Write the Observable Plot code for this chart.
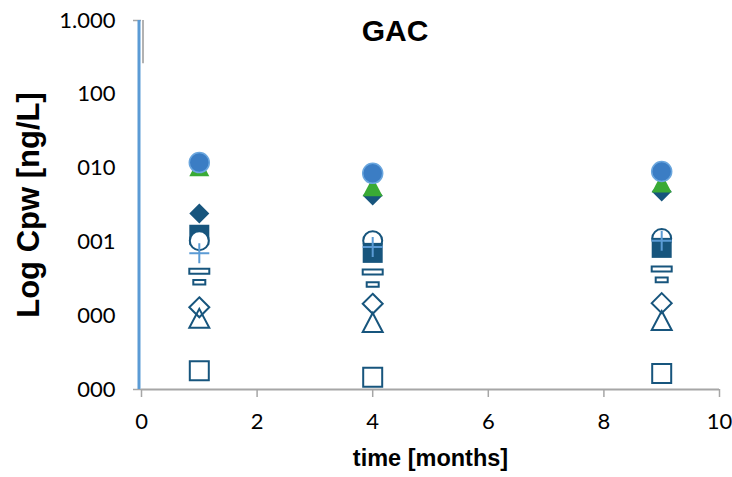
<!DOCTYPE html>
<html>
<head>
<meta charset="utf-8">
<script src="https://cdn.jsdelivr.net/npm/d3@7"></script>
<script src="https://cdn.jsdelivr.net/npm/@observablehq/plot@0.6"></script>
<style>
  html, body { margin: 0; padding: 0; background: #fff; }
  #wrap { position: relative; width: 732px; height: 477px; }
  #title { position: absolute; left: 395px; top: 16px; transform: translateX(-50%);
           font-family: "Liberation Sans", Arial, sans-serif; font-weight: bold; font-size: 30px;
           line-height: 30px; color: #000; white-space: nowrap; }
</style>
</head>
<body>
<div id="wrap"><div id="title">GAC</div></div>
<script>
// ---- data ----
const months = [1, 4, 9];
const blueCircle   = [11.9, 8.5, 9.0];
const greenTriangle= [10.4, 5.6, 6.3];
const navyDiamond  = [2.43, 4.25, 4.8];
const navySquare   = [1.25, 0.71, 0.83];
const openCircle   = [1.04, 1.04, 1.11];
const lightPlus    = [0.70, 0.85, 1.04];
const wideDash     = [0.40, 0.39, 0.43];
const shortDash    = [0.284, 0.265, 0.306];
const openDiamond  = [0.130, 0.145, 0.148];
const openTriangle = [0.092, 0.081, 0.086];
const openSquare   = [0.018, 0.0146, 0.0165];

const xTicks = [0, 2, 4, 6, 8, 10];
const yTicks = [1000, 100, 10, 1, 0.1, 0.01];
const yTickLabels = ["1.000", "100", "010", "001", "000", "000"];

// ---- helpers ----
const rows = vals => months.map((m, i) => ({month: m, value: vals[i]}));
const rad = size => Math.sqrt(size / Math.PI);
const symRect = aspect => ({draw(ctx, size) { const r = rad(size), h = r * aspect; ctx.rect(-r, -h, 2 * r, 2 * h); }});
const symSquare = {draw(ctx, size) { const r = rad(size); ctx.rect(-r, -r, 2 * r, 2 * r); }};
const symDiamond = {draw(ctx, size) { const r = rad(size); ctx.moveTo(0, -r); ctx.lineTo(r, 0); ctx.lineTo(0, r); ctx.lineTo(-r, 0); ctx.closePath(); }};
const symTriangle = {draw(ctx, size) { const r = rad(size), h = r * 0.95; ctx.moveTo(0, -h); ctx.lineTo(r, h); ctx.lineTo(-r, h); ctx.closePath(); }};
const symPlus = {draw(ctx, size) { const r = rad(size); ctx.moveTo(-r, 0); ctx.lineTo(r, 0); ctx.moveTo(0, -r); ctx.lineTo(0, r); }};

const NAVY = "#17557d", BLUE = "#3b7dc4", BLUE_EDGE = "#6aa6de", GREEN = "#3aaa35", LIGHT = "#5b9bd5";
const base = {x: "month", y: "value"};

const sqRows = rows(navySquare), ocRows = rows(openCircle);

const chart = Plot.plot({
  width: 732, height: 477,
  marginLeft: 141, marginRight: 13, marginTop: 20, marginBottom: 88,
  style: {fontFamily: "Lato, 'Open Sans', sans-serif", background: "transparent", color: "#000"},
  x: {domain: [0, 10]},
  y: {type: "log", domain: [0.01, 1000]},
  marks: [
    Plot.ruleY([0.01], {stroke: "#a6a6a6", strokeWidth: 2}),
    Plot.axisX({ticks: xTicks, tickSize: 8, tickPadding: 16, stroke: "#a6a6a6", strokeWidth: 1.5, fill: "#000", fontSize: 22, label: null, tickFormat: d => String(d)}),
    Plot.axisY({ticks: [1000, 0.01], tickSize: 8, stroke: "#a6a6a6", strokeWidth: 1.5, tickFormat: () => "", label: null}),
    Plot.axisY({ticks: yTicks, tickSize: 0, tickPadding: 26, fontSize: 22, fill: "#000", label: null, tickFormat: d => yTickLabels[yTicks.indexOf(d)]}),
    Plot.ruleX([0], {y1: 260, y2: 1000, stroke: "#999", strokeWidth: 1.5, dx: 1.5}),
    Plot.ruleX([0], {stroke: LIGHT, strokeWidth: 3, dx: -2.5}),
    Plot.text(["Log Cpw [ng/L]"], {frameAnchor: "left", textAnchor: "middle", rotate: -90, dx: -112, fontSize: 31, fontWeight: "bold", fontFamily: "'Liberation Sans', Arial, sans-serif", fill: "#000"}),
    Plot.text(["time [months]"], {frameAnchor: "bottom", dy: 76, fontSize: 23.5, fontWeight: "bold", fontFamily: "'Liberation Sans', Arial, sans-serif", fill: "#000"}),

    // low markers
    Plot.dot(rows(openSquare), {...base, symbol: symSquare, r: 9.5, stroke: NAVY, strokeWidth: 2, fill: "white"}),
    Plot.dot(rows(openDiamond), {...base, symbol: symDiamond, r: 10, stroke: NAVY, strokeWidth: 2, fill: "none"}),
    Plot.dot(rows(openTriangle), {...base, symbol: symTriangle, r: 10, stroke: NAVY, strokeWidth: 2, fill: "none"}),
    Plot.dot(rows(shortDash), {...base, symbol: symRect(0.38), r: 6, stroke: NAVY, strokeWidth: 2, fill: "white"}),
    Plot.dot(rows(wideDash), {...base, symbol: symRect(0.25), r: 10, stroke: NAVY, strokeWidth: 2, fill: "white"}),

    // square/circle: circle in front at month 1, square in front later
    Plot.dot(sqRows.filter(d => d.month === 1), {...base, symbol: symSquare, r: 10, fill: NAVY}),
    Plot.dot(ocRows, {...base, r: 9.5, stroke: NAVY, strokeWidth: 2, fill: "white"}),
    Plot.dot(sqRows.filter(d => d.month !== 1), {...base, symbol: symSquare, r: 10, fill: NAVY}),
    Plot.dot(rows(lightPlus), {...base, symbol: symPlus, r: 10, stroke: LIGHT, strokeWidth: 2, fill: "none"}),

    // top markers
    Plot.dot(rows(navyDiamond), {...base, symbol: symDiamond, r: 10, fill: NAVY}),
    Plot.dot(rows(greenTriangle), {...base, symbol: symTriangle, r: 10, fill: GREEN}),
    Plot.dot(rows(blueCircle), {...base, r: 10, fill: BLUE, stroke: BLUE_EDGE, strokeWidth: 1.5})
  ]
});
document.getElementById("wrap").prepend(chart);
</script>
</body>
</html>
